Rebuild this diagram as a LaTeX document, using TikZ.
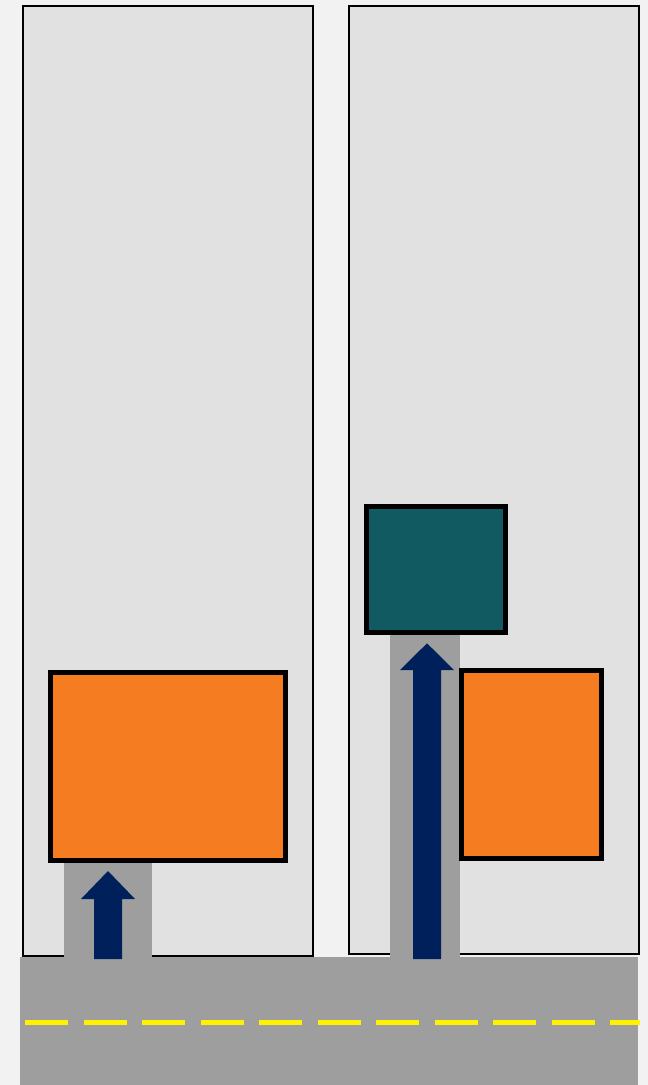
\documentclass[tikz,border=0pt]{standalone}
\usetikzlibrary{positioning}
\definecolor{bgcolor}{RGB}{242,242,242}
\definecolor{lotcolor}{RGB}{225,225,225}
\definecolor{pavecolor}{RGB}{158,158,158}
\definecolor{orangecar}{RGB}{245,124,32}
\definecolor{tealcar}{RGB}{18,90,97}
\definecolor{navyarrow}{RGB}{0,32,91}
\tikzset{
  lotbox/.style={fill=lotcolor, draw=black, line width=2pt},
  carbox/.style={draw=black, line width=5pt, line join=miter},
  pavement/.style={fill=pavecolor},
  laneln/.style={yellow, line width=5pt, dash pattern=on 43pt off 15.5pt},
}
% up arrow: centre x, tip y, head base y, bottom y
\newcommand{\uparrowpt}[4]{%
  \fill[navyarrow] (#1-14,#4) -- (#1-14,#3) -- (#1-27,#3) -- (#1,#2)
    -- (#1+27,#3) -- (#1+14,#3) -- (#1+14,#4) -- cycle;
}
\begin{document}
\begin{tikzpicture}[x=1pt,y=-1pt]
    \useasboundingbox (0,0) rectangle (648,1085);
    \fill[bgcolor] (0,0) rectangle (648,1085);
    % parking lots
    \draw[lotbox] (23,6) rectangle (313,955.7);
    \draw[lotbox] (349,6.3) rectangle (639,953.7);
    % driveways and road
    \fill[pavement] (64,861) rectangle (152,957);
    \fill[pavement] (390,634) rectangle (460,957);
    \fill[pavement] (20,956.7) rectangle (638,1085);
    \draw[laneln] (25,1022.3) -- (640,1022.3);
    % cars
    \draw[carbox, fill=orangecar] (50.7,672) rectangle (285,860);
    \draw[carbox, fill=tealcar] (366.5,506) rectangle (505,632);
    \draw[carbox, fill=orangecar] (461.5,670) rectangle (601,858);
    % arrows
    \uparrowpt{108}{871}{899}{959}
    \uparrowpt{427}{643.3}{670}{959}
  \end{tikzpicture}
\end{document}
